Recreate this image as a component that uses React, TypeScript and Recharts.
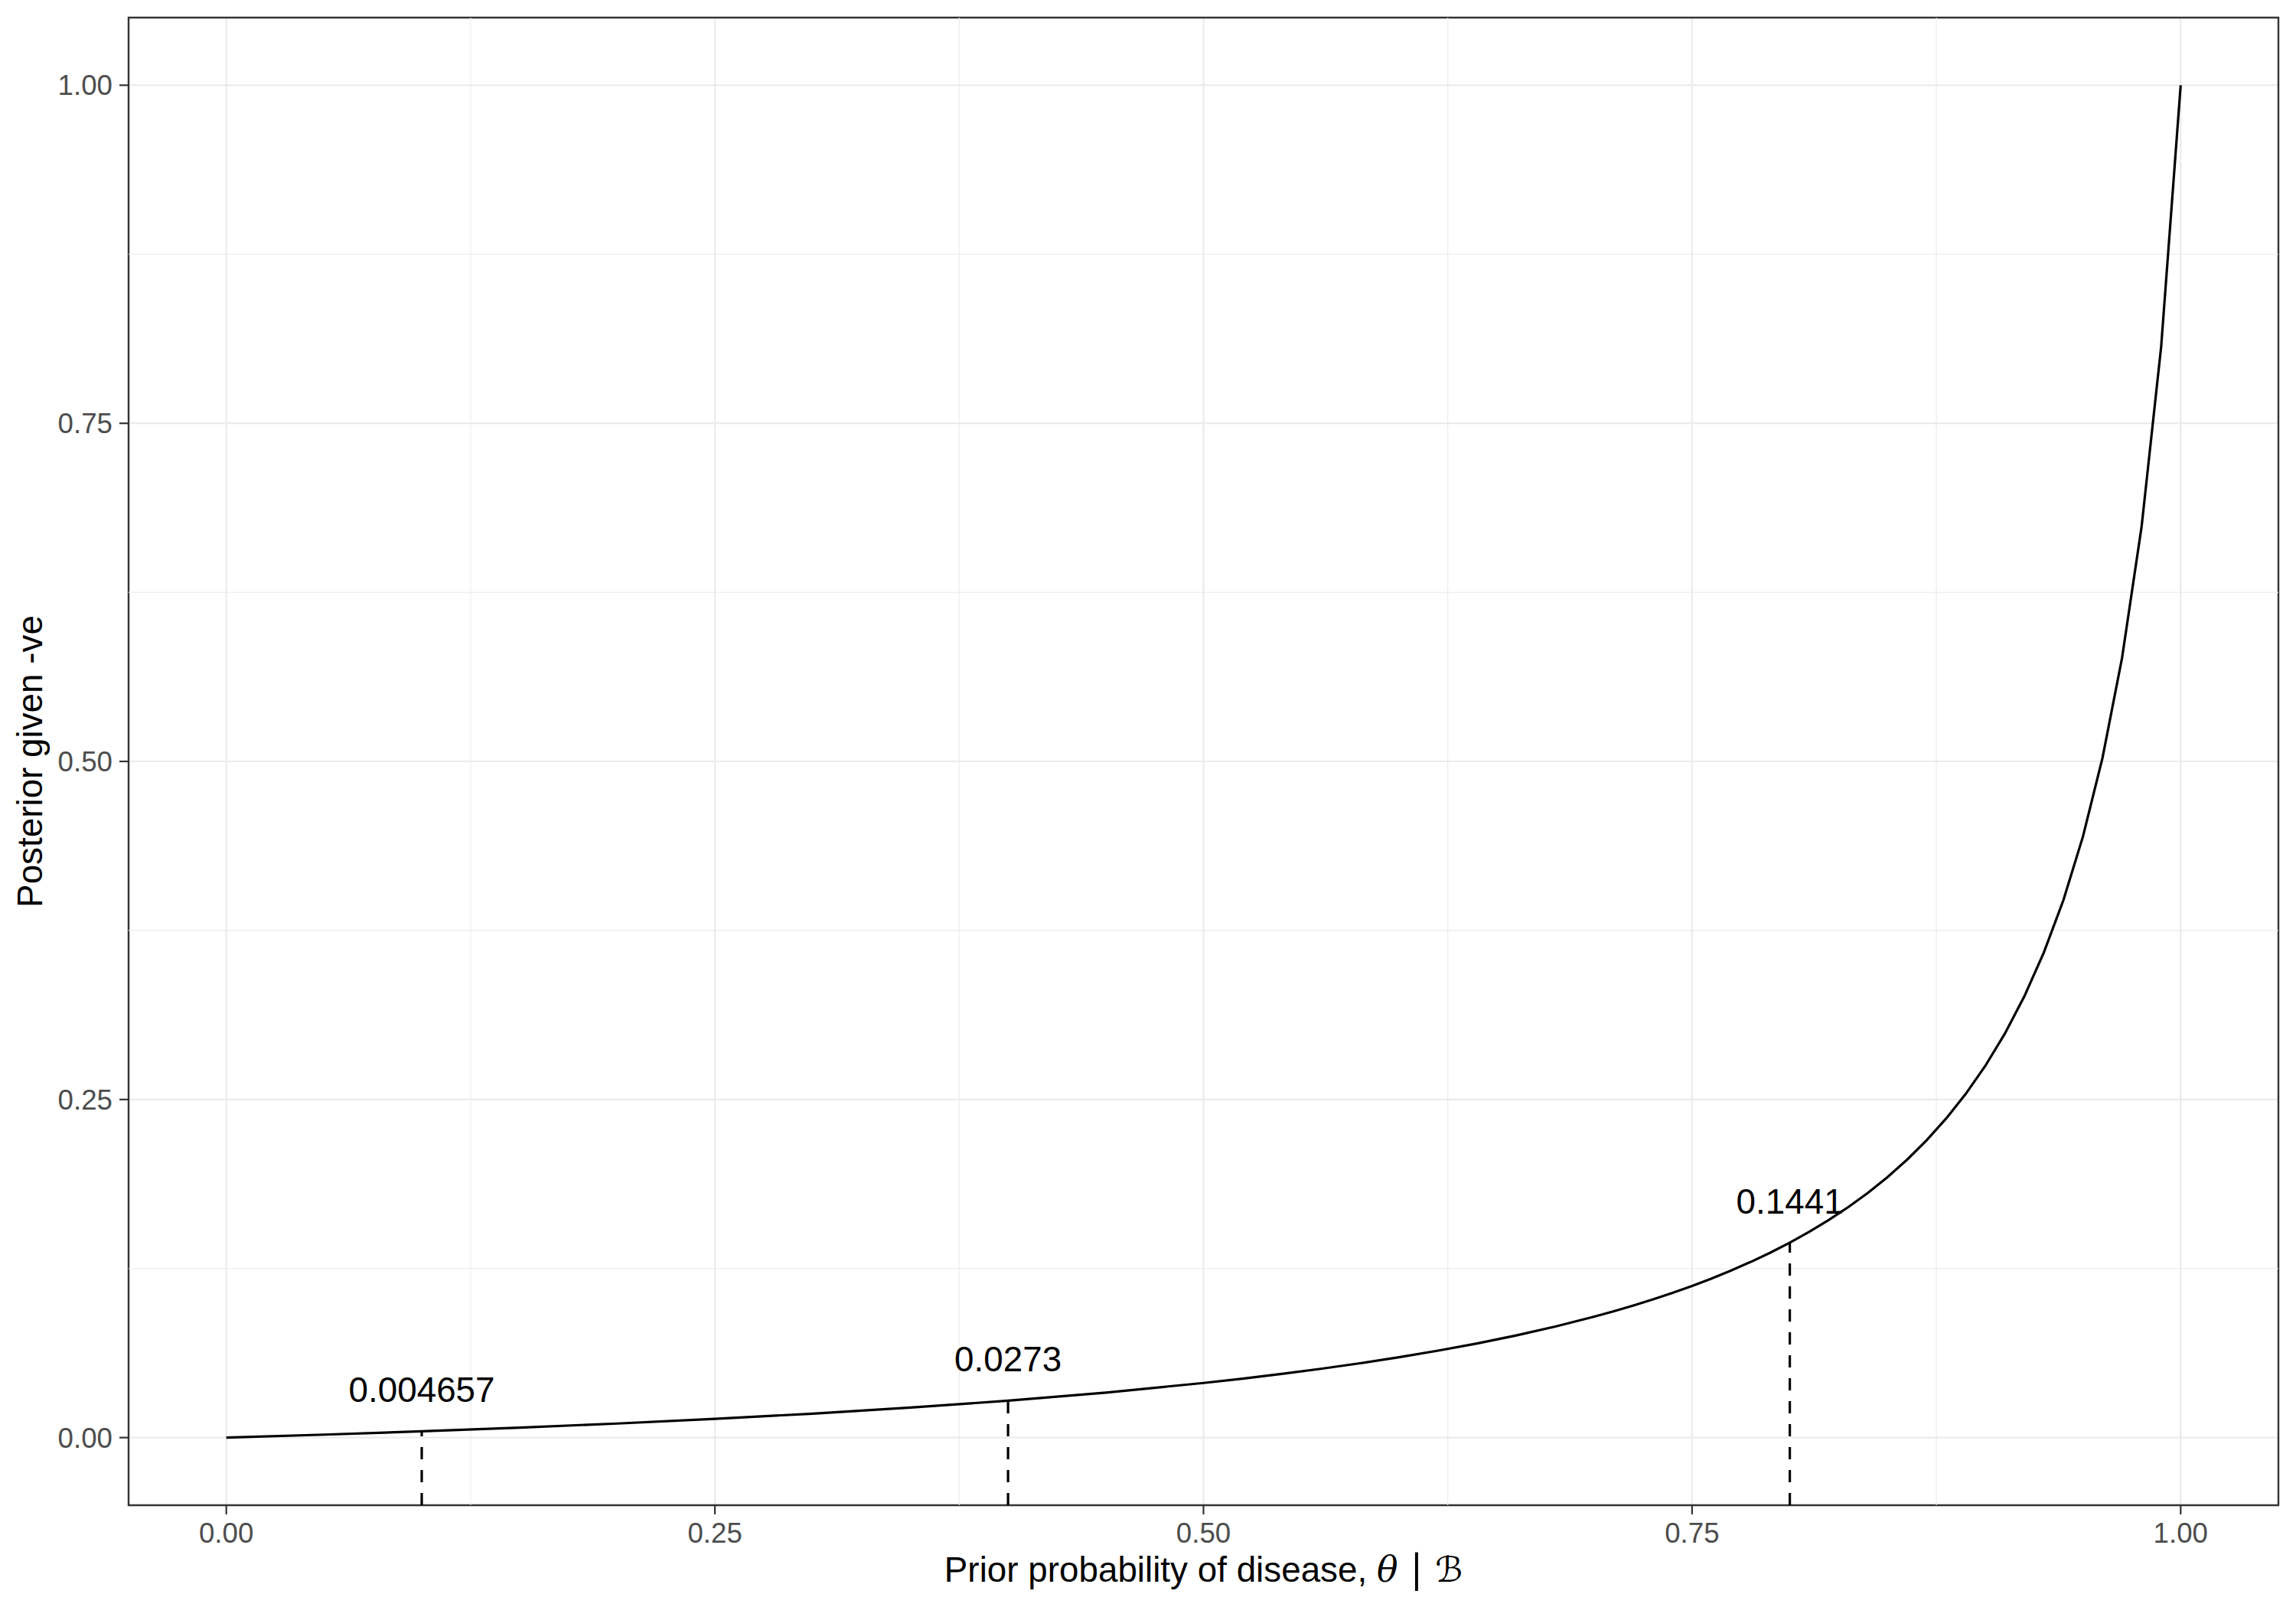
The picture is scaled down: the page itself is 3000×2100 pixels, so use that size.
import React from "react";
import {
  ComposedChart,
  Line,
  Scatter,
  XAxis,
  YAxis,
  CartesianGrid,
  ReferenceLine,
  ReferenceArea,
} from "recharts";

// prior probability (x) and posterior given a negative test (y)
const theta = [
  0, 0.05, 0.1, 0.15, 0.2, 0.25, 0.3, 0.35, 0.4, 0.45, 0.5, 0.52, 0.54, 0.56,
  0.58, 0.6, 0.62, 0.64, 0.66, 0.68, 0.7, 0.71, 0.72, 0.73, 0.74, 0.75, 0.76,
  0.77, 0.78, 0.79, 0.8, 0.81, 0.82, 0.83, 0.84, 0.85, 0.86, 0.87, 0.88, 0.89,
  0.9, 0.91, 0.92, 0.93, 0.94, 0.95, 0.96, 0.97, 0.98, 0.99, 1,
];
const posterior = [
  0, 0.002211, 0.004657, 0.007376, 0.010417, 0.013841, 0.017725, 0.02217,
  0.027304, 0.033302, 0.040404, 0.043624, 0.0471, 0.050863, 0.05495, 0.059406,
  0.064282, 0.069641, 0.075558, 0.082126, 0.089457, 0.093452, 0.097693,
  0.102205, 0.107014, 0.11215, 0.117647, 0.123546, 0.129892, 0.136737,
  0.144144, 0.152184, 0.160942, 0.170519, 0.181034, 0.192635, 0.205496,
  0.219836, 0.235925, 0.254104, 0.274809, 0.298605, 0.326241, 0.358727,
  0.397463, 0.444444, 0.502618, 0.576523, 0.67354, 0.806517, 1,
];

// highlighted priors
const markerTheta = [0.1, 0.4, 0.8];
const markerValue = [0.004657, 0.0273, 0.1441];
const markerText = ["0.004657", "0.0273", "0.1441"];

const majorTicks = [0, 0.25, 0.5, 0.75, 1];
const minorTicks = [0.125, 0.375, 0.625, 0.875];
const domain: [number, number] = [-0.05, 1.05];

const curve = theta.map((t, i) => ({ theta: t, value: posterior[i] }));
const markers = markerTheta.map((t, i) => ({
  theta: t,
  value: markerValue[i],
  text: markerText[i],
}));

const FONT = "'Liberation Sans', Arial, Helvetica, sans-serif";
const SERIF = "'DejaVu Serif', 'Liberation Serif', serif";
const GRID = "#ebebeb";
const INK = "#333333";

const tickStyle = { fill: "#4d4d4d", fontSize: 36.7, fontFamily: FONT };

function MarkerLabel(props: any) {
  const { cx, cy, payload } = props;
  if (cx == null || cy == null) return null;
  return (
    <text
      x={cx}
      y={cy - 38}
      textAnchor="middle"
      fontSize={45.8}
      fontFamily={FONT}
      fill="#000"
    >
      {payload.text}
    </text>
  );
}

function XTitle(props: any) {
  const vb = props.viewBox || {};
  const x = (vb.x ?? 168) + (vb.width ?? 2809) / 2;
  const y = (vb.y ?? 1967) + 100;
  return (
    <text x={x} y={y} textAnchor="middle" fontSize={45.8} fontFamily={FONT} fill="#000">
      <tspan>Prior probability of disease, </tspan>
      <tspan fontFamily={SERIF} fontStyle="italic">
        θ
      </tspan>
      <tspan fontFamily={SERIF} fontSize={50}> | </tspan>
      <tspan fontFamily="'DejaVu Sans', sans-serif" fontStyle="italic">
        ℬ
      </tspan>
    </text>
  );
}

function YTitle(props: any) {
  const vb = props.viewBox || {};
  const cy = (vb.y ?? 23) + (vb.height ?? 1944) / 2;
  const x = 55;
  return (
    <text
      x={x}
      y={cy}
      transform={`rotate(-90, ${x}, ${cy})`}
      textAnchor="middle"
      fontSize={45.8}
      fontFamily={FONT}
      fill="#000"
    >
      Posterior given -ve
    </text>
  );
}

export default function App() {
  return (
    <div
      style={{
        position: "absolute",
        left: 0,
        top: 0,
        width: 3000,
        height: 2100,
        background: "#fff",
      }}
    >
      <ComposedChart
        width={3000}
        height={2100}
        margin={{ top: 23, right: 23, bottom: 0, left: 0 }}
      >
        <CartesianGrid stroke={GRID} strokeWidth={2.2} />
        {minorTicks.map((v) => (
          <ReferenceLine key={`mx${v}`} x={v} stroke={GRID} strokeWidth={1.1} />
        ))}
        {minorTicks.map((v) => (
          <ReferenceLine key={`my${v}`} y={v} stroke={GRID} strokeWidth={1.1} />
        ))}
        <XAxis
          type="number"
          dataKey="theta"
          domain={domain}
          allowDataOverflow
          ticks={majorTicks}
          tickFormatter={(v: number) => v.toFixed(2)}
          height={133}
          tickSize={12}
          tickMargin={11}
          axisLine={false}
          tickLine={{ stroke: INK, strokeWidth: 2.2 }}
          tick={tickStyle}
          label={<XTitle />}
        />
        <YAxis
          type="number"
          domain={domain}
          allowDataOverflow
          ticks={majorTicks}
          tickFormatter={(v: number) => v.toFixed(2)}
          width={168}
          tickSize={12}
          tickMargin={9}
          axisLine={false}
          tickLine={{ stroke: INK, strokeWidth: 2.2 }}
          tick={tickStyle}
          label={<YTitle />}
        />
        {markers.map((m) => (
          <ReferenceLine
            key={`seg${m.theta}`}
            segment={[
              { x: m.theta, y: domain[0] },
              { x: m.theta, y: m.value },
            ]}
            stroke="#000"
            strokeWidth={3.2}
            strokeDasharray="16 14"
          />
        ))}
        <Line
          data={curve}
          dataKey="value"
          type="linear"
          stroke="#000"
          strokeWidth={3.2}
          dot={false}
          activeDot={false}
          isAnimationActive={false}
        />
        <Scatter
          data={markers}
          dataKey="value"
          shape={<MarkerLabel />}
          isAnimationActive={false}
        />
        <ReferenceArea
          x1={domain[0]}
          x2={domain[1]}
          y1={domain[0]}
          y2={domain[1]}
          fill="none"
          fillOpacity={0}
          stroke={INK}
          strokeWidth={2.4}
        />
      </ComposedChart>
    </div>
  );
}
